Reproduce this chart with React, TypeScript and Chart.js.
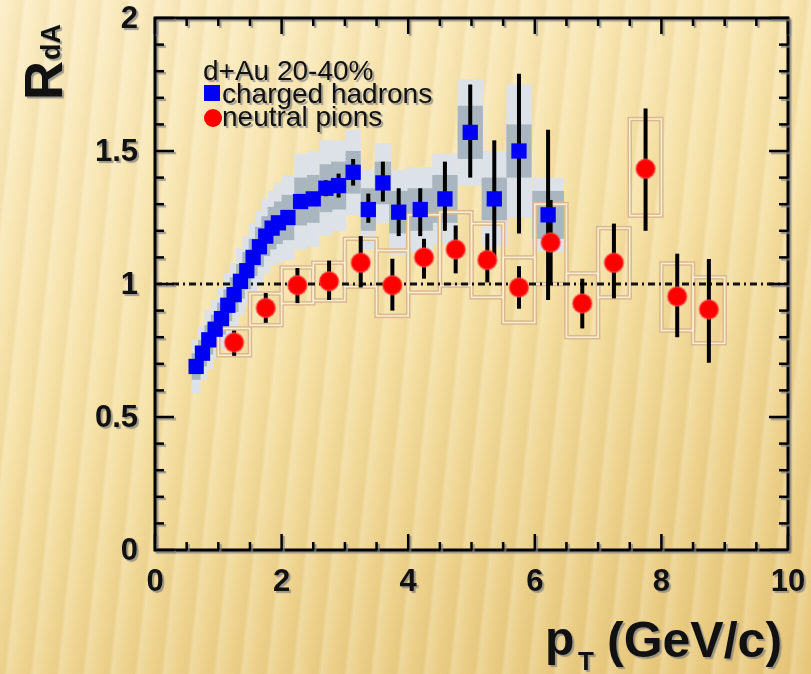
import React, { useEffect, useRef } from "react";
import { Chart, registerables } from "chart.js";

Chart.register(...registerables);

// ---------- data ----------
// charged hadrons: pT, R_dA, stat error (low/high), systematic (inner/outer), bin half width
const chX = [0.65, 0.75, 0.85, 0.95, 1.05, 1.15, 1.25, 1.35, 1.45, 1.55, 1.65, 1.75, 1.85, 1.95, 2.1, 2.3, 2.5, 2.7, 2.9, 3.13, 3.37, 3.6, 3.85, 4.19, 4.58, 4.98, 5.36, 5.75, 6.21];
const chY = [0.69, 0.74, 0.79, 0.83, 0.87, 0.92, 0.96, 1.01, 1.05, 1.1, 1.14, 1.18, 1.21, 1.23, 1.25, 1.31, 1.32, 1.36, 1.37, 1.42, 1.28, 1.38, 1.27, 1.28, 1.32, 1.57, 1.32, 1.5, 1.26];
const chErrLo = [0.01, 0.01, 0.01, 0.01, 0.01, 0.01, 0.01, 0.01, 0.01, 0.01, 0.01, 0.01, 0.01, 0.01, 0.015, 0.02, 0.02, 0.03, 0.045, 0.05, 0.05, 0.07, 0.09, 0.1, 0.12, 0.17, 0.22, 0.31, 0.32];
const chErrHi = [0.01, 0.01, 0.01, 0.01, 0.01, 0.01, 0.01, 0.01, 0.01, 0.01, 0.01, 0.01, 0.01, 0.01, 0.015, 0.02, 0.02, 0.03, 0.045, 0.05, 0.06, 0.08, 0.09, 0.08, 0.14, 0.18, 0.22, 0.29, 0.32];
const chSysIn = [0.05, 0.05, 0.055, 0.055, 0.06, 0.06, 0.065, 0.065, 0.07, 0.07, 0.075, 0.075, 0.08, 0.08, 0.085, 0.09, 0.09, 0.09, 0.09, 0.08, 0.08, 0.08, 0.08, 0.08, 0.09, 0.1, 0.08, 0.1, 0.09];
const chSysOut = [0.1, 0.1, 0.11, 0.11, 0.115, 0.12, 0.12, 0.125, 0.13, 0.13, 0.135, 0.14, 0.14, 0.15, 0.16, 0.18, 0.18, 0.18, 0.17, 0.16, 0.15, 0.15, 0.16, 0.16, 0.17, 0.2, 0.18, 0.25, 0.14];
const chHalfW = [0.07, 0.07, 0.07, 0.07, 0.07, 0.07, 0.07, 0.07, 0.07, 0.07, 0.07, 0.07, 0.07, 0.07, 0.1, 0.1, 0.1, 0.1, 0.12, 0.12, 0.12, 0.13, 0.15, 0.2, 0.2, 0.2, 0.2, 0.2, 0.25];

// neutral pions: pT, R_dA, stat error (low/high), systematic box (low/high)
const piX = [1.25, 1.75, 2.25, 2.75, 3.25, 3.75, 4.25, 4.75, 5.25, 5.75, 6.25, 6.75, 7.25, 7.75, 8.25, 8.75];
const piY = [0.78, 0.91, 0.995, 1.01, 1.08, 0.995, 1.1, 1.13, 1.09, 0.987, 1.156, 0.927, 1.08, 1.433, 0.953, 0.904];
const piErrLo = [0.05, 0.056, 0.067, 0.07, 0.093, 0.095, 0.08, 0.09, 0.084, 0.08, 0.16, 0.094, 0.134, 0.233, 0.153, 0.2];
const piErrHi = [0.045, 0.056, 0.065, 0.078, 0.1, 0.1, 0.07, 0.09, 0.1, 0.08, 0.16, 0.093, 0.147, 0.227, 0.161, 0.19];
const piSysLo = [0.732, 0.845, 0.927, 0.938, 0.99, 0.88, 0.968, 0.994, 0.95, 0.855, 1.0, 0.8, 0.95, 1.257, 0.825, 0.777];
const piSysHi = [0.833, 0.964, 1.062, 1.08, 1.17, 1.126, 1.26, 1.27, 1.227, 1.1, 1.3, 1.04, 1.21, 1.62, 1.077, 1.025];
const piHalfW = 0.25;

const xTickLabels = ["0", "2", "4", "6", "8", "10"];
const yTickLabels = ["0", "0.5", "1", "1.5", "2"];
const refLine = 1;

const legendTitle = "d+Au 20-40%";
const seriesNames = ["charged hadrons", "neutral pions"];

const FONT = "'Liberation Sans', Arial, Helvetica, sans-serif";
const SHADOW = "rgba(130,130,130,0.75)";

const physPlugin = {
  id: "phys",
  beforeDatasetsDraw(chart: any) {
    const { ctx, chartArea: ca } = chart;
    const x = chart.scales.x;
    const y = chart.scales.y;
    ctx.save();
    ctx.beginPath();
    ctx.rect(ca.left, ca.top, ca.right - ca.left, ca.bottom - ca.top);
    ctx.clip();

    const rect = (xc: number, hw: number, lo: number, hi: number) => {
      const x0 = x.getPixelForValue(xc - hw);
      const x1 = x.getPixelForValue(xc + hw);
      const y0 = y.getPixelForValue(hi);
      const y1 = y.getPixelForValue(lo);
      return [x0, y0, x1 - x0, y1 - y0];
    };

    // charged hadron systematic bands
    ctx.fillStyle = "#dce2e7";
    chX.forEach((xv, i) => {
      const [a, b, c, d] = rect(xv, chHalfW[i], chY[i] - chSysOut[i], chY[i] + chSysOut[i]);
      ctx.fillRect(a, b, c, d);
    });
    ctx.fillStyle = "#a9b6c0";
    chX.forEach((xv, i) => {
      const [a, b, c, d] = rect(xv, chHalfW[i], chY[i] - chSysIn[i], chY[i] + chSysIn[i]);
      ctx.fillRect(a, b, c, d);
    });

    // neutral pion systematic boxes (double tan outline)
    piX.forEach((xv, i) => {
      const [a, b, c, d] = rect(xv, piHalfW, piSysLo[i], piSysHi[i]);
      ctx.strokeStyle = "#dbb98f";
      ctx.lineWidth = 4.5;
      ctx.strokeRect(a, b, c, d);
    });
    piX.forEach((xv, i) => {
      const [a, b, c, d] = rect(xv, piHalfW, piSysLo[i], piSysHi[i]);
      ctx.strokeStyle = "#fbefd3";
      ctx.lineWidth = 1.5;
      ctx.strokeRect(a, b, c, d);
    });

    // reference line at 1
    ctx.strokeStyle = "#111";
    ctx.lineWidth = 3;
    ctx.setLineDash([7, 4, 2, 4]);
    ctx.beginPath();
    const yr = y.getPixelForValue(refLine);
    ctx.moveTo(ca.left, yr);
    ctx.lineTo(ca.right, yr);
    ctx.stroke();
    ctx.setLineDash([]);

    // error bars
    ctx.strokeStyle = "#000";
    ctx.lineWidth = 4;
    ctx.lineCap = "butt";
    const bar = (xv: number, lo: number, hi: number) => {
      const px = x.getPixelForValue(xv);
      ctx.beginPath();
      ctx.moveTo(px, y.getPixelForValue(lo));
      ctx.lineTo(px, y.getPixelForValue(hi));
      ctx.stroke();
    };
    chX.forEach((xv, i) => bar(xv, chY[i] - chErrLo[i], chY[i] + chErrHi[i]));
    piX.forEach((xv, i) => bar(xv, piY[i] - piErrLo[i], piY[i] + piErrHi[i]));
    ctx.restore();
  },
  afterDraw(chart: any) {
    const { ctx, chartArea: ca } = chart;
    const x = chart.scales.x;
    const y = chart.scales.y;
    ctx.save();
    ctx.shadowColor = SHADOW;
    ctx.shadowOffsetX = 2;
    ctx.shadowOffsetY = 2;
    ctx.shadowBlur = 1;

    // frame
    ctx.strokeStyle = "#000";
    ctx.lineWidth = 3;
    ctx.strokeRect(ca.left, ca.top, ca.right - ca.left, ca.bottom - ca.top);

    const seg = (x0: number, y0: number, x1: number, y1: number) => {
      ctx.beginPath();
      ctx.moveTo(x0, y0);
      ctx.lineTo(x1, y1);
      ctx.stroke();
    };
    ctx.lineWidth = 2.5;
    // x ticks: major every 2, minor every 0.5
    for (let k = 0; k <= 20; k++) {
      const px = x.getPixelForValue(k * 0.5);
      const L = k % 4 === 0 ? 16 : 8;
      seg(px, ca.bottom, px, ca.bottom - L);
      seg(px, ca.top, px, ca.top + L);
    }
    // y ticks: major every 0.5, minor every 0.1
    for (let k = 0; k <= 20; k++) {
      const py = y.getPixelForValue(k * 0.1);
      const L = k % 5 === 0 ? 19 : 9;
      seg(ca.left, py, ca.left + L, py);
      seg(ca.right, py, ca.right - L, py);
    }

    // tick labels
    ctx.fillStyle = "#111";
    ctx.font = `bold 31px ${FONT}`;
    ctx.textBaseline = "middle";
    ctx.textAlign = "center";
    xTickLabels.forEach((t) => {
      ctx.fillText(t, x.getPixelForValue(Number(t)), ca.bottom + 32);
    });
    ctx.textAlign = "right";
    yTickLabels.forEach((t) => {
      ctx.fillText(t, ca.left - 17, y.getPixelForValue(Number(t)) + 1);
    });

    // legend
    ctx.textBaseline = "alphabetic";
    ctx.textAlign = "left";
    ctx.font = `28px ${FONT}`;
    ctx.fillText(legendTitle, 203, 80);
    ctx.fillText(seriesNames[0], 222, 103);
    ctx.fillText(seriesNames[1], 222, 126);
    ctx.shadowColor = "rgba(0,0,0,0)";
    ctx.fillStyle = "#0000f5";
    ctx.fillRect(204, 85, 16, 16);
    ctx.fillStyle = "#ff0000";
    ctx.beginPath();
    ctx.arc(213, 118, 9, 0, Math.PI * 2);
    ctx.fill();
    ctx.shadowColor = SHADOW;

    // x title: p_T (GeV/c)
    ctx.fillStyle = "#111";
    ctx.font = `bold 48px ${FONT}`;
    ctx.fillText("p", 545, 655);
    ctx.font = `bold 26px ${FONT}`;
    ctx.fillText("T", 578, 670);
    ctx.font = `bold 50px ${FONT}`;
    ctx.fillText("(GeV/c)", 607, 657);

    // y title: R_dA rotated
    ctx.save();
    ctx.translate(62, 100);
    ctx.rotate(-Math.PI / 2);
    ctx.font = `bold 54px ${FONT}`;
    ctx.fillText("R", 0, 0);
    const rw = ctx.measureText("R").width;
    ctx.font = `bold 27px ${FONT}`;
    ctx.fillText("dA", rw + 1, -2);
    ctx.restore();

    ctx.restore();
  },
};

export default function App() {
  const ref = useRef<HTMLCanvasElement | null>(null);
  useEffect(() => {
    document.body.style.margin = "0";
    const canvas = ref.current;
    if (!canvas) return;
    const chart = new Chart(canvas, {
      type: "scatter",
      data: {
        datasets: [
          {
            label: seriesNames[1],
            data: piX.map((v, i) => ({ x: v, y: piY[i] })),
            pointStyle: "circle",
            pointRadius: 9.5,
            pointHoverRadius: 9.5,
            backgroundColor: "#ff0000",
            borderColor: "rgba(255,70,70,0.55)",
            borderWidth: 2,
          },
          {
            label: seriesNames[0],
            data: chX.map((v, i) => ({ x: v, y: chY[i] })),
            pointStyle: "rect",
            pointRadius: 10.8,
            pointHoverRadius: 10.8,
            backgroundColor: "#0000f5",
            borderWidth: 0,
          },
        ],
      },
      options: {
        animation: false,
        responsive: false,
        devicePixelRatio: 1,
        layout: { autoPadding: false, padding: { top: 18, right: 23, left: 0, bottom: 0 } },
        plugins: { legend: { display: false }, tooltip: { enabled: false } },
        scales: {
          x: {
            type: "linear",
            min: 0,
            max: 10,
            afterFit: (s: any) => {
              s.height = 124;
            },
            ticks: { display: false, stepSize: 2 },
            grid: { display: false, drawTicks: false },
            border: { display: false },
          },
          y: {
            type: "linear",
            min: 0,
            max: 2,
            afterFit: (s: any) => {
              s.width = 155;
            },
            ticks: { display: false, stepSize: 0.5 },
            grid: { display: false, drawTicks: false },
            border: { display: false },
          },
        },
      },
      plugins: [physPlugin],
    } as any);
    return () => chart.destroy();
  }, []);

  return (
    <div
      style={{
        position: "relative",
        width: 811,
        height: 674,
        overflow: "hidden",
        background:
          "repeating-linear-gradient(96deg, rgba(255,255,255,0.18) 0px, rgba(255,255,255,0) 11px, rgba(150,110,20,0.06) 22px, rgba(255,255,255,0.18) 26px), linear-gradient(160deg, #fbecc2 0%, #f6e1a5 45%, #ecd089 80%, #e8c87c 100%)",
      }}
    >
      <canvas ref={ref} width={811} height={674} style={{ display: "block", width: 811, height: 674 }} />
    </div>
  );
}
